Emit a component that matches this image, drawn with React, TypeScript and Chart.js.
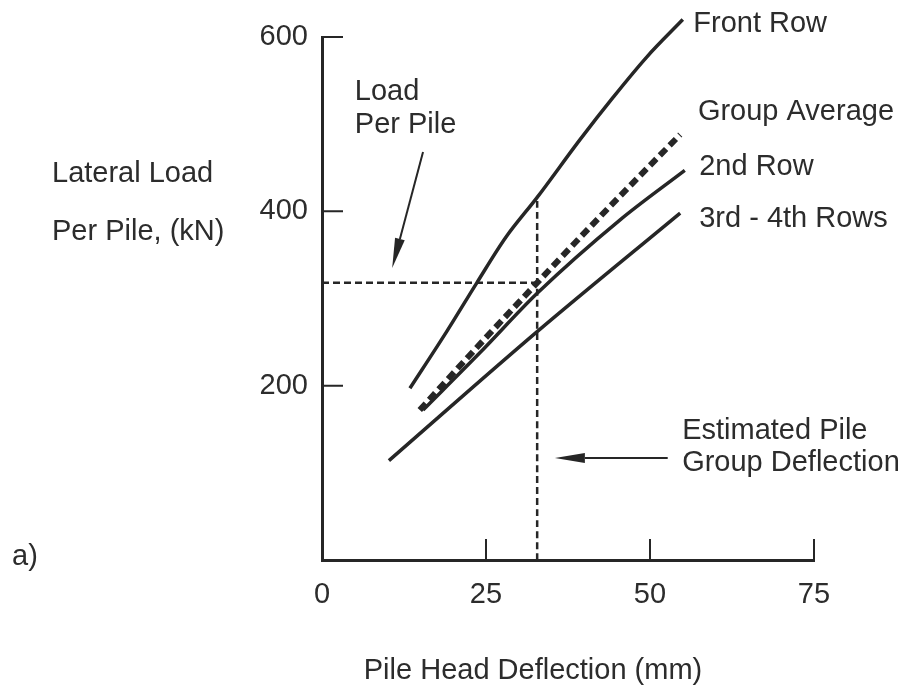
import React, { useEffect, useRef } from "react";
import { Chart, registerables } from "chart.js";

Chart.register(...registerables);

// ---- data (mm, kN) ----
const xTickValues = [0, 25, 50, 75];
const yTickValues = [0, 200, 400, 600];

const frontRowX = [13.4, 19, 23.6, 28, 32.8, 39.3, 44.4, 49.5, 55];
const frontRowY = [197, 262, 318, 370, 416, 482, 531, 577, 620];

const groupAvgX = [14.9, 23.5, 32.8, 42.4, 54.6];
const groupAvgY = [172, 243, 318, 394, 488];

const secondRowX = [15.4, 24.1, 32.8, 45.4, 55.3];
const secondRowY = [172, 238, 306, 390, 447];

const thirdFourthX = [10.2, 32.8, 54.6];
const thirdFourthY = [114, 262, 398];

const seriesNames = ["Front Row", "Group Average", "2nd Row", "3rd - 4th Rows"];

const estimatedDeflection = 32.8; // mm
const loadPerPile = 318; // kN
const frontRowAtEstimate = 416; // kN

const INK = "#262626";
const TEXT = "#2c2c2c";
const FAMILY = '"Liberation Sans", Arial, sans-serif';
const FONT = `29px ${FAMILY}`;

const pts = (xs: number[], ys: number[]) => xs.map((x, i) => ({ x, y: ys[i] }));

const annotationPlugin = {
  id: "annotations",
  afterDraw(chart: any) {
    const { ctx, chartArea } = chart;
    const xs = chart.scales.x;
    const ys = chart.scales.y;
    const px = (v: number) => xs.getPixelForValue(v);
    const py = (v: number) => ys.getPixelForValue(v);

    ctx.save();
    // inward tick marks
    ctx.strokeStyle = INK;
    ctx.lineWidth = 2;
    ctx.beginPath();
    yTickValues.filter((v) => v > 0).forEach((v) => {
      ctx.moveTo(chartArea.left, py(v));
      ctx.lineTo(chartArea.left + 21, py(v));
    });
    xTickValues.filter((v) => v > 0).forEach((v) => {
      ctx.moveTo(px(v), chartArea.bottom);
      ctx.lineTo(px(v), chartArea.bottom - 21);
    });
    ctx.stroke();

    ctx.fillStyle = TEXT;
    ctx.font = FONT;
    ctx.textBaseline = "middle";
    ctx.textAlign = "left";

    const text = (s: string, x: number, y: number) => ctx.fillText(s, px(x), py(y));

    // series labels
    text(seriesNames[0], 56.6, 615);
    text(seriesNames[1], 57.3, 514);
    text(seriesNames[2], 57.5, 451);
    text(seriesNames[3], 57.5, 391);

    // annotations
    text("Load", 5.0, 537);
    text("Per Pile", 5.0, 499);
    text("Estimated Pile", 54.9, 148);
    text("Group Deflection", 54.9, 111);

    const arrow = (x1: number, y1: number, x2: number, y2: number, len: number, half: number) => {
      const ax = px(x1), ay = py(y1), bx = px(x2), by = py(y2);
      const ang = Math.atan2(by - ay, bx - ax);
      const cx = bx - len * Math.cos(ang), cy = by - len * Math.sin(ang);
      ctx.strokeStyle = INK;
      ctx.lineWidth = 2;
      ctx.beginPath();
      ctx.moveTo(ax, ay);
      ctx.lineTo(cx, cy);
      ctx.stroke();
      ctx.fillStyle = INK;
      ctx.beginPath();
      ctx.moveTo(bx, by);
      ctx.lineTo(cx + half * Math.sin(ang), cy - half * Math.cos(ang));
      ctx.lineTo(cx - half * Math.sin(ang), cy + half * Math.cos(ang));
      ctx.closePath();
      ctx.fill();
    };
    arrow(15.4, 468, 10.7, 335, 30, 5);
    arrow(52.7, 117, 35.5, 117, 30, 5);

    // axis titles and panel tag
    ctx.fillStyle = TEXT;
    ctx.textAlign = "left";
    ctx.fillText("Lateral Load", chartArea.left - 270, py(443));
    ctx.fillText("Per Pile, (kN)", chartArea.left - 270, py(376));
    ctx.fillText("a)", chartArea.left - 310, chartArea.bottom - 3);
    ctx.textAlign = "center";
    ctx.fillText("Pile Head Deflection (mm)", chartArea.left + 211, chartArea.bottom + 111);
    ctx.restore();
  },
};

export default function App() {
  const ref = useRef<HTMLCanvasElement | null>(null);

  useEffect(() => {
    if (!ref.current) return;
    const solid = {
      borderColor: INK,
      borderWidth: 3.5,
      pointRadius: 0,
      fill: false,
      clip: false as any,
      cubicInterpolationMode: "monotone" as const,
    };
    const chart = new Chart(ref.current, {
      type: "line",
      data: {
        datasets: [
          { ...solid, label: seriesNames[0], data: pts(frontRowX, frontRowY) },
          {
            ...solid,
            label: seriesNames[1],
            data: pts(groupAvgX, groupAvgY),
            borderWidth: 6,
            borderDash: [9, 5],
            borderCapStyle: "butt",
          },
          { ...solid, label: seriesNames[2], data: pts(secondRowX, secondRowY) },
          { ...solid, label: seriesNames[3], data: pts(thirdFourthX, thirdFourthY) },
          {
            ...solid,
            label: "load per pile",
            data: [
              { x: 0, y: loadPerPile },
              { x: estimatedDeflection, y: loadPerPile },
            ],
            borderWidth: 2.5,
            borderDash: [7, 4],
          },
          {
            ...solid,
            label: "estimated deflection",
            data: [
              { x: estimatedDeflection, y: 0 },
              { x: estimatedDeflection, y: frontRowAtEstimate },
            ],
            borderWidth: 2.5,
            borderDash: [7, 4],
          },
        ],
      },
      options: {
        animation: false,
        responsive: false,
        maintainAspectRatio: false,
        layout: { padding: { top: 37, right: 93, left: 0, bottom: 0 } },
        plugins: { legend: { display: false }, tooltip: { enabled: false } },
        scales: {
          x: {
            type: "linear",
            min: 0,
            max: 75,
            afterFit: (s: any) => {
              s.height = 125;
            },
            afterBuildTicks: (s: any) => {
              s.ticks = xTickValues.map((v) => ({ value: v }));
            },
            grid: { display: false },
            border: { display: true, color: INK, width: 3 },
            ticks: { color: TEXT, font: { family: FAMILY, size: 29 }, padding: 10 },
          },
          y: {
            type: "linear",
            min: 0,
            max: 600,
            afterFit: (s: any) => {
              s.width = 322;
            },
            afterBuildTicks: (s: any) => {
              s.ticks = yTickValues.map((v) => ({ value: v }));
            },
            grid: { display: false },
            border: { display: true, color: INK, width: 3 },
            ticks: {
              color: TEXT,
              font: { family: FAMILY, size: 29 },
              padding: 6,
              callback: (v: any) => (Number(v) === 0 ? "" : String(v)),
            },
          },
        },
      },
      plugins: [annotationPlugin],
    });
    return () => chart.destroy();
  }, []);

  return (
    <div style={{ position: "absolute", left: 0, top: 0, width: 907, height: 685, background: "#fff" }}>
      <canvas ref={ref} width={907} height={685} />
    </div>
  );
}
